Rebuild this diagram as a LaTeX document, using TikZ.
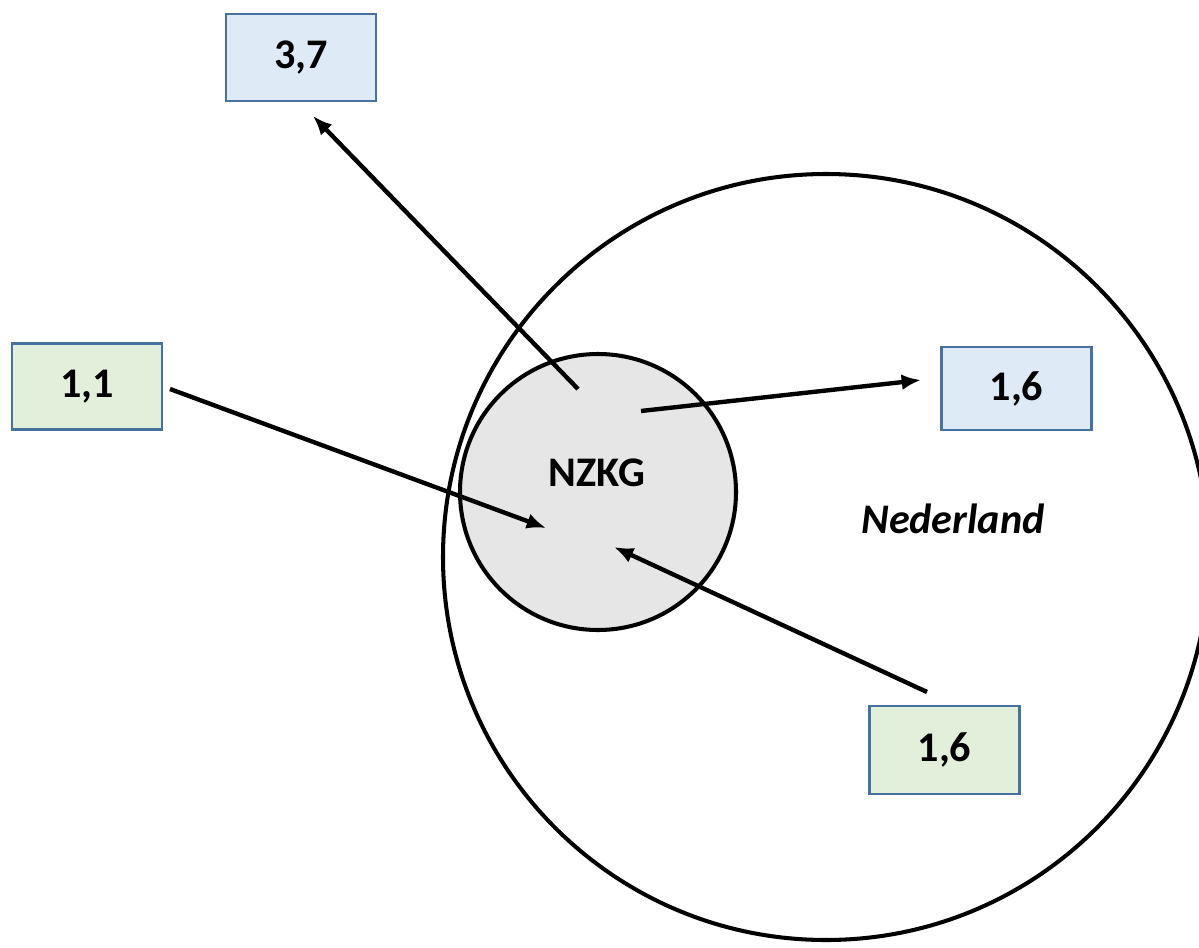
\documentclass[tikz,border=0pt]{standalone}
\usepackage{fontspec}
\setmainfont{Carlito}
\usepackage{tikz}
\usetikzlibrary{arrows.meta}

\definecolor{boxblue}{RGB}{222,234,246}
\definecolor{boxgreen}{RGB}{226,239,218}
\definecolor{boxline}{RGB}{70,114,160}
\definecolor{nzkggray}{RGB}{230,230,230}

\tikzset{
  valbox/.style={draw=boxline, line width=1.5pt, minimum width=3.0cm, minimum height=1.72cm, inner sep=0pt, font=\fontsize{24}{28}\selectfont\bfseries},
  flow/.style={line width=2.5pt, -{Latex[length=11pt,width=9pt]}}
}

\begin{document}
\begin{tikzpicture}
\useasboundingbox (0,0) rectangle (23.98,-18.96);
\clip (0,0) rectangle (23.98,-18.96);

% areas
\draw[line width=2.3pt] (16.52,-11.14) circle (7.66);
\node (nzkg) [circle, draw, fill=nzkggray, line width=2.3pt, minimum size=5.52cm] at (11.96,-9.84) {};
\node (nzkglabel) at (11.94,-9.46) {\fontsize{24}{28}\selectfont\bfseries NZKG};
\node (nl) at (19.06,-10.38) {\fontsize{24}{28}\selectfont\bfseries\itshape Nederland};

% values
\node (out37) [valbox, fill=boxblue, minimum height=1.74cm] at (6.02,-1.15) {3,7};
\node (in11) [valbox, fill=boxgreen] at (1.74,-7.73) {1,1};
\node (out16) [valbox, fill=boxblue, minimum height=1.66cm] at (20.33,-7.77) {1,6};
\node (in16) [valbox, fill=boxgreen, minimum height=1.76cm] at (18.89,-15.0) {1,6};

% arrow ends
\coordinate (a1s) at (11.56,-7.78);  \coordinate (a1e) at (6.26,-2.32);
\coordinate (a2s) at (3.40,-7.78);   \coordinate (a2e) at (10.92,-10.56);
\coordinate (a3s) at (12.82,-8.22);  \coordinate (a3e) at (18.42,-7.60);
\coordinate (a4s) at (18.54,-13.84); \coordinate (a4e) at (12.28,-10.94);

\draw[flow] (a1s) -- (a1e);
\draw[flow] (a2s) -- (a2e);
\draw[flow] (a3s) -- (a3e);
\draw[flow] (a4s) -- (a4e);
\end{tikzpicture}
\end{document}
